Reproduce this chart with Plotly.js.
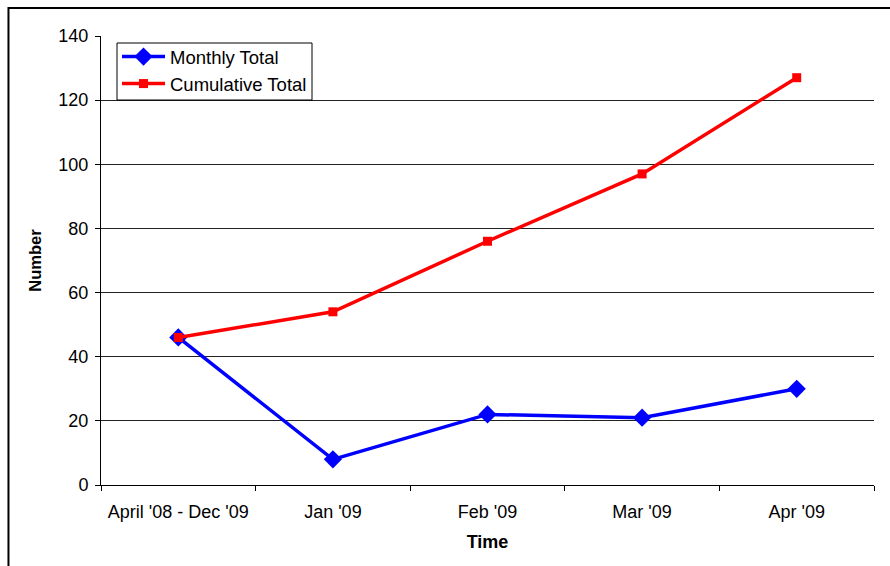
<!DOCTYPE html>
<html>
<head>
<meta charset="utf-8">
<script src="https://cdn.plot.ly/plotly-3.0.1.min.js"></script>
<style>html,body{margin:0;padding:0;background:#fff;}#chart{width:890px;height:566px;}</style>
</head>
<body>
<div id="chart"></div>
<script>
var categories = ["April '08 - Dec '09", "Jan '09", "Feb '09", "Mar '09", "Apr '09"];
var monthlyTotal = [46, 8, 22, 21, 30];
var cumulativeTotal = [46, 54, 76, 97, 127];
var yTicks = [0, 20, 40, 60, 80, 100, 120, 140];

var traces = [
  {
    x: categories, y: monthlyTotal, name: 'Monthly Total', type: 'scatter', mode: 'lines+markers',
    line: {color: '#0000FF', width: 3.5}, marker: {symbol: 'diamond', size: 14, color: '#0000FF'},
    legendgroup: 'a'
  },
  {
    x: categories, y: cumulativeTotal, name: 'Cumulative Total', type: 'scatter', mode: 'lines+markers',
    line: {color: '#FF0000', width: 3.5}, marker: {symbol: 'square', size: 9, color: '#FF0000'},
    legendgroup: 'b'
  }
];

// plot area in pixels: x 101..874, y 36..485
function px(x) { return (x - 101) / 773; }
function py(y) { return (485 - y) / 449; }

var layout = {
  width: 890, height: 566,
  margin: {l: 101, r: 16, t: 36, b: 81},
  paper_bgcolor: '#fff', plot_bgcolor: '#fff',
  font: {family: 'Liberation Sans, Arial, sans-serif', size: 17, color: '#000'},
  showlegend: true,
  legend: {
    x: px(117), y: py(38), xanchor: 'left', yanchor: 'top',
    bgcolor: 'rgba(0,0,0,0)', borderwidth: 0,
    font: {size: 18.5, color: '#000'}, traceorder: 'grouped', tracegroupgap: 0,
    itemwidth: 43
  },
  xaxis: {
    type: 'category', range: [-0.5, 4.5], tickson: 'boundaries',
    ticks: 'outside', ticklen: 5, tickcolor: '#000', ticklabelstandoff: 10,
    showline: true, linecolor: '#000', linewidth: 1, showgrid: false, zeroline: false,
    tickfont: {size: 18},
    title: {text: '<b>Time</b>', font: {size: 18}, standoff: 14}
  },
  yaxis: {
    range: [0, 140], tickvals: yTicks, ticks: 'outside', ticklen: 5, tickcolor: '#000',
    ticklabelstandoff: 3,
    showline: true, linecolor: '#000', linewidth: 1,
    showgrid: true, gridcolor: '#222', gridwidth: 1, zeroline: false,
    tickfont: {size: 18},
    title: {text: '<b>Number</b>', font: {size: 16.5}, standoff: 12}
  },
  shapes: [
    {
      type: 'rect', xref: 'paper', yref: 'paper',
      x0: px(117), x1: px(312), y0: py(100), y1: py(43),
      line: {color: '#000', width: 1}, fillcolor: '#fff', layer: 'above'
    },
    {
      type: 'rect', xref: 'paper', yref: 'paper',
      x0: -0.1197, x1: 1.2, y0: -0.3, y1: 1.0624,
      line: {color: '#000', width: 2}, fillcolor: 'rgba(0,0,0,0)', layer: 'above'
    }
  ]
};

Plotly.newPlot('chart', traces, layout, {displayModeBar: false, staticPlot: true});
</script>
</body>
</html>
